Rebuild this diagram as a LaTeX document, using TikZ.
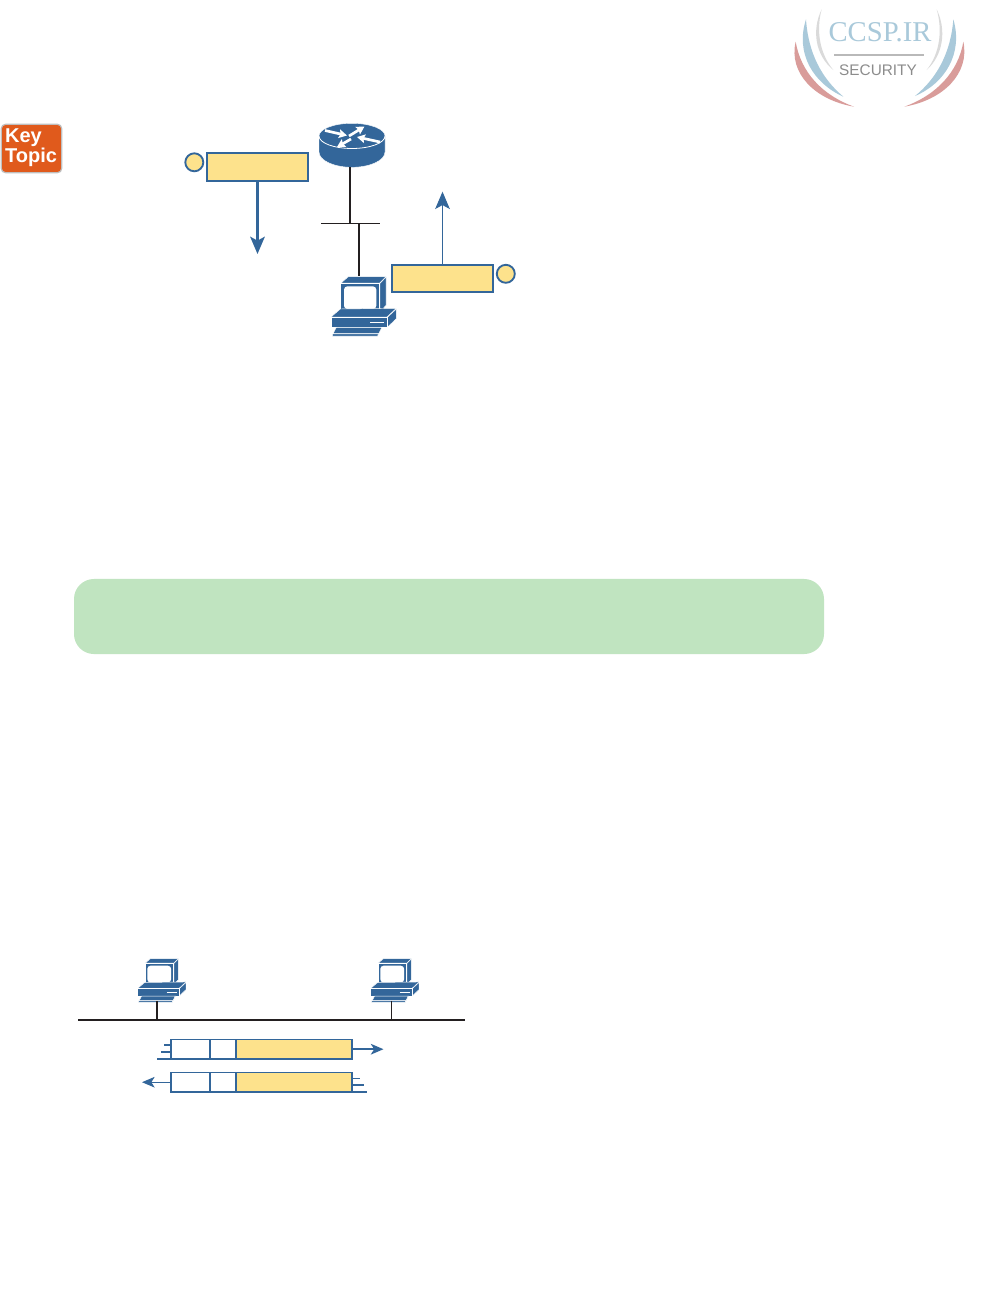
\documentclass[tikz,border=0pt]{standalone}
\usepackage{fontspec}
\setmainfont{Liberation Sans}
\newfontfamily\logoserif{Liberation Serif}
\usetikzlibrary{arrows.meta,calc}
\definecolor{ciscoblue}{HTML}{33669A}
\definecolor{noteyellow}{HTML}{FDE28C}
\definecolor{notegreen}{HTML}{C0E4C0}
\definecolor{keyorange}{HTML}{E05A1C}
\definecolor{wirek}{HTML}{231F20}
\definecolor{logored}{HTML}{D99C9A}
\definecolor{logoblue}{HTML}{A9C9DA}
\definecolor{logogray}{HTML}{DADADA}
\tikzset{
  x=0.75pt,y=-0.75pt,
  plainbox/.style={draw=ciscoblue,line width=1.5pt,inner sep=0pt,outer sep=0pt},
  notebox/.style={plainbox,fill=noteyellow,minimum width=76.2pt,minimum height=20.6pt},
  notedot/.style={circle,draw=ciscoblue,fill=noteyellow,line width=1.4pt,inner sep=0pt,outer sep=0pt,minimum size=13.5pt},
  hdrcell/.style={draw=ciscoblue,line width=1.3pt,inner sep=0pt,outer sep=0pt,minimum height=14.7pt,fill=white},
  datacell/.style={hdrcell,fill=noteyellow},
  bigtip/.style={-{Stealth[length=13pt,width=11pt,inset=3pt]},draw=ciscoblue},
  smalltip/.style={-{Stealth[length=9.5pt,width=8pt,inset=2.5pt]},draw=ciscoblue,line width=1.3pt},
  wire/.style={draw=wirek,line width=1.7pt},
  thinwire/.style={draw=wirek,line width=0.9pt},
  bluetick/.style={draw=ciscoblue,line width=1.3pt},
  iconnode/.style={inner sep=0pt,outer sep=0pt},
  face/.style={fill=ciscoblue,draw=white,line width=0.35pt},
  routerarrow/.style={draw=white,line width=2pt,-{Stealth[length=6pt,width=6.5pt,inset=1pt]}}
}
% PC icon, drawn in 1/3-pixel units from the top left corner of its box
\newcommand{\pcicon}[3]{%
\begin{scope}[shift={(#1,#2)},x=#3*0.25pt,y=-#3*0.25pt]
  \path[face] (48,39) -- (70,20) -- (183,20) -- (164,39) -- cycle;
  \path[face] (165,40) -- (183,21) -- (183,106) -- (165,126) -- cycle;
  \path[face] (47,40) rectangle (164,127);
  \path[fill=white,rounded corners=2.5pt] (57,49) rectangle (154,117);
  \path[face] (18,141) -- (46,117) -- (214,115) -- (186,141) -- cycle;
  \path[face] (187,142) -- (214,117) -- (214,146) -- (187,172) -- cycle;
  \path[face] (18,141) rectangle (186,172);
  \draw[white,line width=0.7pt] (135,157) -- (177,157);
  \path[face] (34,172) -- (171,172) -- (161,191) -- (24,191) -- cycle;
  \path[face] (22,192) -- (160,192) -- (158,198) -- (22,198) -- cycle;
\end{scope}}
\begin{document}
\begin{tikzpicture}
\useasboundingbox[fill=white] (0,0) rectangle (991,1314);

% ---------- logo
\begin{scope}[shift={(780,0)},x=0.25pt,y=-0.25pt]
  \path[fill=logored] (222,320) .. controls (105,300) and (25,220) .. (47,125) .. controls (62,215) and (125,285) .. (222,320) -- cycle;
  \path[fill=logored] (373,320) .. controls (490,300) and (570,220) .. (550,125) .. controls (535,215) and (470,285) .. (373,320) -- cycle;
  \path[fill=logoblue] (190,290) .. controls (100,250) and (45,160) .. (78,58) .. controls (85,160) and (125,235) .. (190,290) -- cycle;
  \path[fill=logoblue] (405,288) .. controls (495,250) and (550,160) .. (520,58) .. controls (512,160) and (470,235) .. (405,288) -- cycle;
  \path[fill=logogray] (125,28) .. controls (95,90) and (105,165) .. (160,210) .. controls (118,160) and (108,90) .. (125,28) -- cycle;
  \path[fill=logogray] (470,28) .. controls (500,90) and (490,165) .. (440,210) .. controls (480,160) and (488,90) .. (470,28) -- cycle;
\end{scope}
\node[iconnode,text=logoblue,font=\logoserif\fontsize{21.5pt}{24pt}\selectfont] (logotext) at (880,32) {CCSP.IR};
\draw[draw=logogray!85!black,line width=1.3pt] (834,55) -- (924,55);
\node[iconnode,text=black!45,font=\fontsize{11.5pt}{13pt}\selectfont] (logosub) at (878,70.7) {SECURITY};

% ---------- key topic badge
\node[draw=black!25,fill=keyorange,rounded corners=3.5pt,line width=0.9pt,inner sep=0pt,outer sep=0pt,
      minimum width=45.5pt,minimum height=36.5pt] (keytopic) at (31.5,148.5) {};
\node[iconnode,text=white,font=\bfseries\fontsize{15pt}{13.2pt}\selectfont,align=left,anchor=center] (keytext) at (31,148) {Key\\Topic};

% ---------- top diagram: router
\node[iconnode,minimum width=49.5pt,minimum height=33pt] (router) at (352,145.3) {};
\path[fill=ciscoblue,draw=white,line width=0.3pt] (319,136) -- (319,152)
   .. controls (319,160.5) and (334,167.3) .. (352,167.3)
   .. controls (370,167.3) and (385,160.5) .. (385,152) -- (385,136)
   .. controls (385,129) and (370,123.3) .. (352,123.3)
   .. controls (334,123.3) and (319,129) .. (319,136) -- cycle;
\draw[white,line width=0.6pt] (319,136) .. controls (319,143) and (334,148.5) .. (352,148.5)
   .. controls (370,148.5) and (385,143) .. (385,136);
\draw[routerarrow] (325,130.5) -- (347,135.5);
\draw[routerarrow] (349,136) -- (364.5,126.5);
\draw[routerarrow] (380,142) -- (357,137);
\draw[routerarrow] (351,139) -- (337,147);

% bus and links
\coordinate (busL) at (321,223.3);
\coordinate (busR) at (380,223.3);
\coordinate (j1) at (350,223.3);
\coordinate (j2) at (359,223.3);
\node[iconnode,minimum width=49pt,minimum height=44pt,anchor=north west] (pcA) at (331,276) {};
\pcicon{325}{270}{1}
\draw[thinwire] (busL) -- (busR);
\draw[wire] (j1 |- router.south) -- (j1);
\draw[wire] (j2) -- (j2 |- pcA.north);

% notes
\node[notebox] (noteA) at (257.5,166.9) {};
\node[notedot] (dotA) at (194.3,162.3) {};
\coordinate (tipA) at (257.5,254);
\draw[bigtip,line width=1.6pt] (noteA.south) -- (tipA);
\node[notebox] (noteB) at (442.5,278.7) {};
\node[notedot] (dotB) at (505.8,273.8) {};
\coordinate (tipB) at (442.5,191.7);
\draw[bigtip,line width=0.8pt] (noteB.north) -- (tipB);

% ---------- green band
\node[fill=notegreen,rounded corners=15pt,inner sep=0pt,outer sep=0pt,minimum width=562.5pt,minimum height=56.3pt] (band) at (449,616.5) {};

% ---------- bottom diagram
\coordinate (segL) at (78,1020);
\coordinate (segR) at (465,1020);
\draw[draw=wirek,line width=1.7pt] (segL) -- (segR);
\node[iconnode,minimum width=35.7pt,minimum height=32.5pt] (pcB) at (161.8,979.3) {};
\node[iconnode,minimum width=35.7pt,minimum height=32.5pt] (pcC) at (394.8,979.3) {};
\pcicon{133.2}{953.6}{0.74}
\pcicon{366.2}{953.6}{0.74}
\coordinate (dropB) at (156.8,1020);
\coordinate (dropC) at (391.3,1020);
\draw[wire,line width=1.4pt] (dropB |- pcB.south) -- (dropB);
\draw[thinwire] (dropC |- pcC.south) -- (dropC);

% frame 1
\node[hdrcell,minimum width=29.25pt] (f1a) at (190.5,1049.2) {};
\node[hdrcell,minimum width=19.5pt] (f1b) at (223,1049.2) {};
\node[datacell,minimum width=87pt] (f1c) at (294,1049.2) {};
\coordinate (f1tip) at (383.5,1049.2);
\draw[smalltip] (f1c.east) -- (f1tip);
\coordinate (t1) at (164,1044.7);
\coordinate (t2) at (161,1052);
\coordinate (t3) at (157,1059);
\draw[bluetick] (t1) -- (t1 -| f1a.west);
\draw[bluetick] (t2) -- (t2 -| f1a.west);
\draw[bluetick] (t3) -- (t3 -| f1a.west);

% frame 2
\node[hdrcell,minimum width=29.25pt] (f2a) at (190.5,1082.2) {};
\node[hdrcell,minimum width=19.5pt] (f2b) at (223,1082.2) {};
\node[datacell,minimum width=87pt] (f2c) at (294,1082.2) {};
\coordinate (f2tip) at (142,1082.2);
\draw[smalltip,line width=0.8pt] (f2a.west) -- (f2tip);
\coordinate (t4) at (360,1078.3);
\coordinate (t5) at (364,1085);
\coordinate (t6) at (366.7,1092);
\draw[bluetick,line width=0.8pt] (t4 -| f2c.east) -- (t4);
\draw[bluetick] (t5 -| f2c.east) -- (t5);
\draw[bluetick] (t6 -| f2c.east) -- (t6);
\end{tikzpicture}
\end{document}
